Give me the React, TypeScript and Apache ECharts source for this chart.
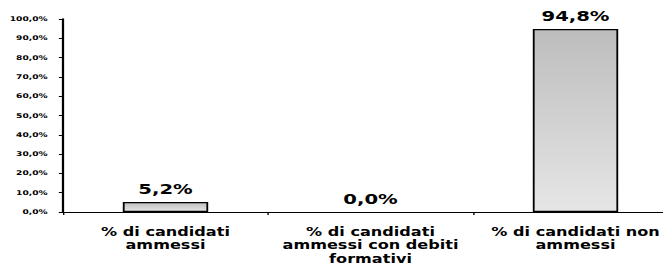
import React, { useEffect, useRef } from "react";
import * as echarts from "echarts";

const categories: string[] = [
  "% di candidati\nammessi",
  "% di candidati\nammessi con debiti\nformativi",
  "% di candidati non\nammessi",
];
const values: number[] = [5.2, 0.0, 94.8];

const fmt = (v: number) => v.toFixed(1).replace(".", ",") + "%";

const S = 1.4; // horizontal stretch of the original picture
const W = 663;
const H = 267;
const INNER_W = (W + 30) / S;

export default function App() {
  const ref = useRef<HTMLDivElement>(null);
  useEffect(() => {
    if (!ref.current) return;
    const chart = echarts.init(ref.current, undefined, { renderer: "svg" });
    const font = "'DejaVu Sans', Verdana, sans-serif";
    const gridLeft = 45;
    const gridWidth = (205 * 3) / S;
    chart.setOption({
      animation: false,
      backgroundColor: "#ffffff",
      grid: {
        left: gridLeft,
        right: INNER_W - gridLeft - gridWidth,
        top: 19,
        bottom: 55,
        containLabel: false,
      },
      xAxis: {
        type: "category",
        data: categories,
        axisLine: { show: true, lineStyle: { color: "#000", width: 1 } },
        axisTick: { show: true, alignWithLabel: false, length: 3, lineStyle: { color: "#000", width: 1 } },
        axisLabel: {
          interval: 0,
          margin: 13,
          color: "#000",
          fontFamily: font,
          fontWeight: "bold",
          fontSize: 11.5,
          lineHeight: 13.5,
          align: "center",
        },
      },
      yAxis: {
        type: "value",
        min: 0,
        max: 100,
        interval: 10,
        axisLine: { show: true, lineStyle: { color: "#000", width: 1.6 } },
        axisTick: { show: true, inside: false, length: 3, lineStyle: { color: "#000", width: 1 } },
        splitLine: { show: false },
        axisLabel: {
          margin: 11,
          color: "#000",
          fontFamily: font,
          fontWeight: "bold",
          fontSize: 6.5,
          formatter: (v: number) => fmt(v),
        },
      },
      series: [
        {
          type: "bar",
          data: values.map((v) => ({
            value: v,
            itemStyle: { borderWidth: v === 0 ? 0 : 1.3 },
          })),
          barWidth: 61,
          itemStyle: {
            color: new echarts.graphic.LinearGradient(0, 0, 0, 1, [
              { offset: 0, color: "#bdbdbd" },
              { offset: 1, color: "#e6e6e6" },
            ]),
            borderColor: "#000",
            borderWidth: 1.3,
          },
          label: {
            show: true,
            position: "top",
            distance: 6,
            color: "#000",
            fontFamily: font,
            fontWeight: "bold",
            fontSize: 14,
            formatter: (p: any) => fmt(p.value),
          },
        },
      ],
    });
    return () => chart.dispose();
  }, []);
  return (
    <div
      style={{
        position: "fixed",
        left: 0,
        top: 0,
        width: W,
        height: H,
        overflow: "hidden",
        background: "#fff",
      }}
    >
      <div
        ref={ref}
        style={{
          width: INNER_W,
          height: H,
          transform: `scaleX(${S})`,
          transformOrigin: "0 0",
        }}
      />
    </div>
  );
}
